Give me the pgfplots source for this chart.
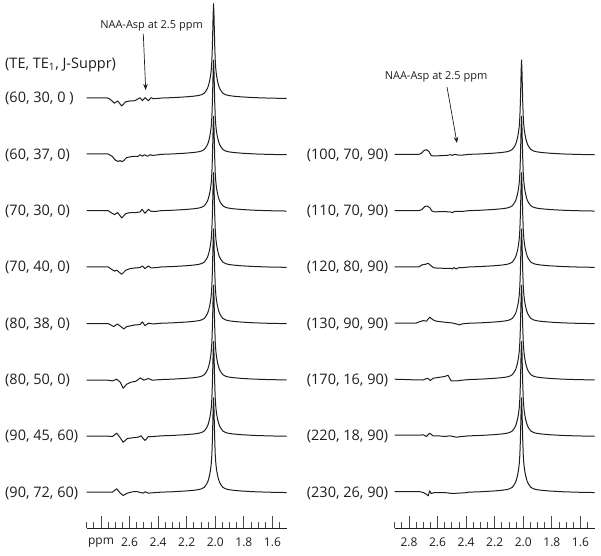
\documentclass[border=0pt]{standalone}
\usepackage{pgfplots}
\pgfplotsset{compat=1.18}
\usepackage{pgfplotstable}
\usepackage{fontspec}
\setmainfont{Open Sans}
\usetikzlibrary{arrows.meta}

\pgfplotstableread{
x y
2.380 0.65
2.300 1.05
2.210 1.8
2.152 2.5
2.117 3.2
2.096 4
2.077 5.5
2.064 8
2.054 10.5
2.047 13.5
2.040 17.5
2.033 23
2.0281 29
2.0239 38
2.0204 52
2.0176 68
2.0148 85
2.012 95
2.0092 85
2.0064 68
2.0036 52
2.0001 38
1.9959 29
1.991 23
1.984 17.5
1.977 13.5
1.970 10.5
1.960 8
1.947 5.5
1.928 4
1.907 3.2
1.872 2.5
1.816 1.8
1.732 1.1
1.627 0.6
1.500 0.25
}\peak

% left column
\pgfplotstableread{
x y
2.90 0.8
2.76 0.8
2.745 0.3
2.73 -1.3
2.706 -4.5
2.683 -2.3
2.655 -7.3
2.627 -3
2.597 -2.3
2.562 -2
2.527 1
2.510 -2
2.492 1
2.468 -2
2.45 1
2.434 0
2.40 0.3
2.38 0.65
}\wA
\pgfplotstableread{
x y
2.90 1
2.75 1
2.72 -1.5
2.70 -5
2.68 -6.5
2.665 -5.5
2.655 -6.8
2.64 -5.5
2.62 -2.5
2.58 -1.5
2.54 -1.3
2.525 0.3
2.51 -1.3
2.495 0.3
2.475 -1.3
2.455 0.3
2.44 -0.5
2.40 0.2
2.38 0.65
}\wB
\pgfplotstableread{
x y
2.90 0.7
2.75 0.7
2.73 -1.3
2.706 -3.3
2.683 -1.3
2.655 -6.7
2.627 -2.3
2.597 -1.3
2.562 -1.3
2.527 -0.7
2.512 2
2.492 -2
2.468 2
2.45 0
2.41 0
2.38 0.65
}\wC
\pgfplotstableread{
x y
2.90 0.7
2.75 0.7
2.73 -1.3
2.706 -3.5
2.69 -2.5
2.655 -6.7
2.627 -2.7
2.597 -1
2.56 -0.3
2.527 0
2.51 1.7
2.492 -1
2.468 1.7
2.45 -0.3
2.41 0
2.38 0.65
}\wD
\pgfplotstableread{
x y
2.90 0.3
2.75 0.3
2.736 -0.7
2.71 -2.7
2.685 0
2.64 -5
2.62 -2.7
2.56 -1
2.527 -0.7
2.51 2
2.492 -1.7
2.468 0.7
2.434 0
2.38 0.65
}\wE
\pgfplotstableread{
x y
2.90 0
2.75 0
2.72 -0.7
2.69 1
2.665 -2
2.645 -8
2.62 -4
2.59 -2
2.555 -1
2.525 2.3
2.50 0
2.468 1.7
2.44 0
2.38 0.65
}\wF
\pgfplotstableread{
x y
2.90 0.3
2.75 0.3
2.72 0
2.69 3.3
2.665 -1.3
2.645 -5.7
2.615 -2
2.58 -1.3
2.54 -0.7
2.52 0.7
2.492 -4
2.468 0
2.434 0
2.38 0.65
}\wG
\pgfplotstableread{
x y
2.90 0.7
2.75 0.7
2.72 0.7
2.69 4
2.665 -0.3
2.645 -2.7
2.615 -0.3
2.58 1
2.55 1.3
2.525 0.3
2.505 -0.3
2.49 1
2.47 -0.3
2.44 0
2.38 0.65
}\wH

% right column
\pgfplotstableread{
x y
2.90 0.7
2.73 0.7
2.715 1.5
2.695 4.5
2.678 5.3
2.66 3.5
2.645 -0.5
2.63 -1
2.58 -0.7
2.53 -0.3
2.51 0.3
2.495 -0.3
2.48 0.7
2.46 0
2.42 0
2.38 0.65
}\wR
\pgfplotstableread{
x y
2.90 0.7
2.73 0.7
2.71 1.7
2.69 4.7
2.675 5.3
2.655 3.7
2.64 0.3
2.62 -0.5
2.55 -0.3
2.51 -0.7
2.495 -1.3
2.48 0
2.42 0
2.38 0.65
}\wS
\pgfplotstableread{
x y
2.90 0.7
2.73 0.7
2.71 2.7
2.685 3.3
2.665 4.3
2.645 1.7
2.625 -0.3
2.56 -0.7
2.51 -0.7
2.495 -1.3
2.485 0
2.47 -1.3
2.45 0
2.42 0
2.38 0.65
}\wT
\pgfplotstableread{
x y
2.90 0.7
2.75 0.7
2.736 1.7
2.70 3.3
2.678 2.7
2.655 6.7
2.631 4
2.608 2.7
2.55 1.7
2.50 1
2.47 0
2.445 -1
2.43 0
2.38 0.65
}\wU
\pgfplotstableread{
x y
2.90 1
2.75 0.3
2.70 0.3
2.67 2
2.65 -0.3
2.631 2
2.596 2.7
2.55 3.7
2.527 5
2.51 0.5
2.503 -0.7
2.468 -0.7
2.43 0
2.38 0.65
}\wV
\pgfplotstableread{
x y
2.90 1.3
2.73 1.3
2.70 1.7
2.678 0
2.655 3.3
2.631 0.7
2.596 0.7
2.55 0
2.515 0.7
2.49 0
2.468 -0.7
2.43 0
2.38 0.65
}\wW
\pgfplotstableread{
x y
2.90 1.3
2.73 1.3
2.70 0.3
2.68 -1.3
2.665 -3
2.655 2
2.645 -0.7
2.62 0.3
2.55 0.3
2.50 -0.7
2.45 -0.3
2.41 0
2.38 0.65
}\wX

\definecolor{ink}{HTML}{1E1E1E}

\pgfplotsset{
  specaxis/.style={
    anchor=south west,
    scale only axis, width=200pt, height=528pt,
    xmin=1.5, xmax=2.9, ymin=0, ymax=528,
    x dir=reverse,
    axis x line=bottom, axis y line=none,
    x axis line style={-, line width=0.8pt, ink},
    tick align=inside,
    xtick={1.6,1.8,2.0,2.2,2.4,2.6,2.8},
    minor xtick={1.55,1.65,1.7,1.75,1.85,1.9,1.95,2.05,2.1,2.15,2.25,2.3,2.35,2.45,2.5,2.55,2.65,2.7,2.75,2.85,2.9},
    major tick length=12pt, minor tick length=6pt,
    every tick/.style={line width=0.8pt, ink!80},
    xticklabel style={font=\fontsize{12}{14}\selectfont, text=ink, yshift=-6pt},
    clip=false,
  },
  spec/.style={ink, line width=1pt, line join=round, no marks},
}

\begin{document}
\begin{tikzpicture}
\useasboundingbox (0pt,0pt) rectangle (601pt,555pt);

\begin{axis}[specaxis, at={(86.7pt,27pt)},
  xticklabels={1.6,1.8,2.0,2.2,2.4,2.6,ppm}]
\addplot[spec] table[y expr=\thisrow{y}+429.3] {\wA};
\addplot[spec] table[y expr=\thisrow{y}+429.3] {\peak};
\addplot[spec] table[y expr=\thisrow{y}+373.0] {\wB};
\addplot[spec] table[y expr=\thisrow{y}+373.0] {\peak};
\addplot[spec] table[y expr=\thisrow{y}+316.7] {\wC};
\addplot[spec] table[y expr=\thisrow{y}+316.7] {\peak};
\addplot[spec] table[y expr=\thisrow{y}+260.4] {\wD};
\addplot[spec] table[y expr=\thisrow{y}+260.4] {\peak};
\addplot[spec] table[y expr=\thisrow{y}+204.1] {\wE};
\addplot[spec] table[y expr=\thisrow{y}+204.1] {\peak};
\addplot[spec] table[y expr=\thisrow{y}+147.8] {\wF};
\addplot[spec] table[y expr=\thisrow{y}+147.8] {\peak};
\addplot[spec] table[y expr=\thisrow{y}+91.5] {\wG};
\addplot[spec] table[y expr=\thisrow{y}+91.5] {\peak};
\addplot[spec] table[y expr=\thisrow{y}+35.2] {\wH};
\addplot[spec] table[y expr=\thisrow{y}+35.2] {\peak};
\end{axis}

\begin{axis}[specaxis, at={(394.7pt,27pt)},
  xticklabels={1.6,1.8,2.0,2.2,2.4,2.6,2.8}]
\addplot[spec] table[y expr=\thisrow{y}+373.0] {\wR};
\addplot[spec] table[y expr=\thisrow{y}+373.0] {\peak};
\addplot[spec] table[y expr=\thisrow{y}+316.7] {\wS};
\addplot[spec] table[y expr=\thisrow{y}+316.7] {\peak};
\addplot[spec] table[y expr=\thisrow{y}+260.4] {\wT};
\addplot[spec] table[y expr=\thisrow{y}+260.4] {\peak};
\addplot[spec] table[y expr=\thisrow{y}+204.1] {\wU};
\addplot[spec] table[y expr=\thisrow{y}+204.1] {\peak};
\addplot[spec] table[y expr=\thisrow{y}+147.8] {\wV};
\addplot[spec] table[y expr=\thisrow{y}+147.8] {\peak};
\addplot[spec] table[y expr=\thisrow{y}+91.5] {\wW};
\addplot[spec] table[y expr=\thisrow{y}+91.5] {\peak};
\addplot[spec] table[y expr=\thisrow{y}+35.2] {\wX};
\addplot[spec] table[y expr=\thisrow{y}+35.2] {\peak};
\end{axis}

\begin{scope}[every node/.style={text=ink, inner sep=0pt, font=\fontsize{14.5}{17}\selectfont}]
\node[anchor=west] at (5pt,490.5pt) {(TE, TE\textsubscript{1}, J-Suppr)};
\node[anchor=west] at (5pt,456.2pt) {(60, 30, 0 )};
\node[anchor=west] at (5pt,399.9pt) {(60, 37, 0)};
\node[anchor=west] at (5pt,343.6pt) {(70, 30, 0)};
\node[anchor=west] at (5pt,287.3pt) {(70, 40, 0)};
\node[anchor=west] at (5pt,231.0pt) {(80, 38, 0)};
\node[anchor=west] at (5pt,174.7pt) {(80, 50, 0)};
\node[anchor=west] at (5pt,118.4pt) {(90, 45, 60)};
\node[anchor=west] at (5pt,62.1pt) {(90, 72, 60)};
\node[anchor=west] at (306.7pt,399.9pt) {(100, 70, 90)};
\node[anchor=west] at (306.7pt,343.6pt) {(110, 70, 90)};
\node[anchor=west] at (306.7pt,287.3pt) {(120, 80, 90)};
\node[anchor=west] at (306.7pt,231.0pt) {(130, 90, 90)};
\node[anchor=west] at (306.7pt,174.7pt) {(170, 16, 90)};
\node[anchor=west] at (306.7pt,118.4pt) {(220, 18, 90)};
\node[anchor=west] at (306.7pt,62.1pt) {(230, 26, 90)};
\end{scope}

\node[text=ink, inner sep=0pt, font=\fontsize{11}{13}\selectfont] at (151.5pt,529pt) {NAA-Asp at 2.5 ppm};
\node[text=ink, inner sep=0pt, font=\fontsize{11}{13}\selectfont] at (436pt,478pt) {NAA-Asp at 2.5 ppm};
\draw[ink, line width=0.7pt, -{Stealth[length=6pt,width=4.5pt]}] (143.3pt,521pt) -- (145.7pt,465pt);
\draw[ink, line width=0.7pt, -{Stealth[length=6pt,width=4.5pt]}] (447pt,468pt) -- (457pt,412pt);
\end{tikzpicture}
\end{document}
